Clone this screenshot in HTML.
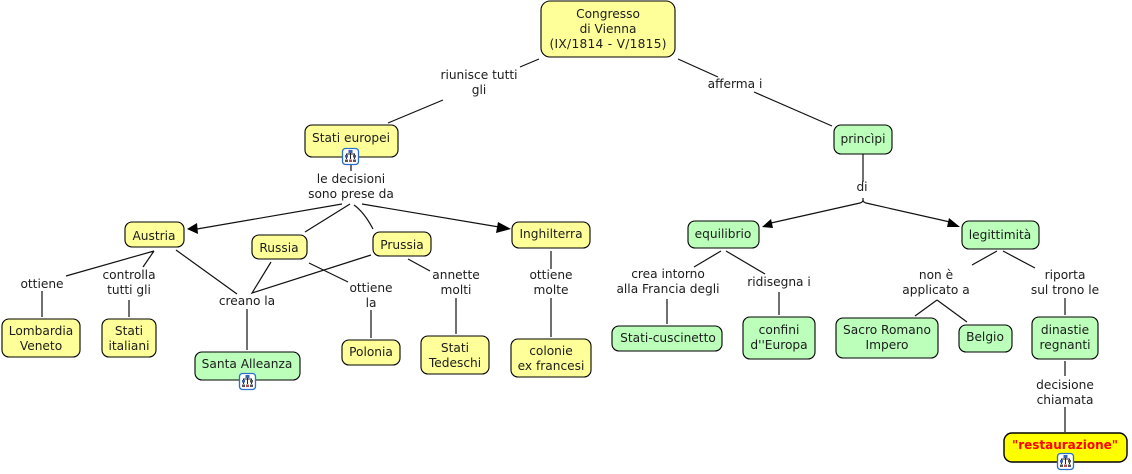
<!DOCTYPE html>
<html><head><meta charset="utf-8"><style>
html,body{margin:0;padding:0;background:#fff;width:1132px;height:474px;overflow:hidden}
svg{display:block}
text{font-family:"DejaVu Sans","Liberation Sans",sans-serif;font-size:12.2px;fill:#1c1c1c;text-anchor:middle}
.l{fill:none;stroke:#111;stroke-width:1.2}
.y{fill:#ffff99;stroke:#000;stroke-width:1.1}
.g{fill:#bbffbb;stroke:#000;stroke-width:1.1}
.a{fill:#000;stroke:none}
.ic{fill:#fff;stroke:#2a6fc9;stroke-width:1.3}
</style></head><body>
<svg width="1132" height="474" viewBox="0 0 1132 474" xmlns="http://www.w3.org/2000/svg">
<defs><g id="ic"><rect class="ic" x="0.5" y="0.5" width="16" height="16" rx="3"/><path d="M8.5 3V6M4.5 8V6H12.5V8M4.5 8V11M8.5 6V11M12.5 8V11" fill="none" stroke="#223" stroke-width="1"/><rect x="6.5" y="2" width="4" height="3" fill="#3a62b0"/><rect x="3" y="7" width="3" height="2.5" fill="#3a62b0"/><rect x="11" y="7" width="3" height="2.5" fill="#555"/><rect x="3" y="11.5" width="3" height="2.5" fill="#555"/><rect x="7" y="11.5" width="3" height="2.5" fill="#a55"/><rect x="11" y="11.5" width="3" height="2.5" fill="#555"/></g></defs>

<!-- connectors -->
<g class="l">
<path d="M539 59L520 67M443 100L388 123"/>
<path d="M678 59L718 77M754 92L832 126"/>
<path d="M351 165V171"/>
<path d="M342 204L197 229M350 204L305 232M354 205Q364 212 373 229M362 204L499 227"/>
<path d="M154 251L66 276M154 251L143 267M42 291V317M129 300V317M176 250L237 294"/>
<path d="M271 262L252 293L371 255M247 309V350"/>
<path d="M309 263L348 282M371 310V338"/>
<path d="M408 259L430 271M456 298V334"/>
<path d="M551 251V269M551 298V337"/>
<path d="M863 154V182M863 198V200Q863 202 860 203L771 223M863 200Q863 202 866 203L950 222"/>
<path d="M721 251L694 267M726 251L765 274M667 299V324M779 292V315"/>
<path d="M997 251L972 265M1003 251L1035 268M937 300L915 316M937 300L967 322"/>
<path d="M1065 298V315M1065 361V376M1065 407V432"/>
</g>

<!-- arrowheads -->
<path class="a" d="M187 229L197 223L198 234Z"/>
<path class="a" d="M511 229L498 222L496 233Z"/>
<path class="a" d="M762 227L771 219L773 228Z"/>
<path class="a" d="M960 227L949 218L947 227Z"/>

<!-- nodes -->
<rect class="y" x="541" y="1" width="134" height="56" rx="9"/>
<rect class="y" x="305" y="125" width="93" height="32" rx="7"/>
<rect class="g" x="834" y="125" width="58" height="29" rx="7"/>
<rect class="y" x="125" y="222" width="59" height="25" rx="7"/>
<rect class="y" x="252" y="235" width="55" height="24" rx="7"/>
<rect class="y" x="373" y="232" width="58" height="24" rx="7"/>
<rect class="y" x="512" y="222" width="78" height="26" rx="7"/>
<rect class="g" x="688" y="221" width="71" height="27" rx="7"/>
<rect class="g" x="962" y="221" width="77" height="28" rx="7"/>
<rect class="y" x="2" y="319" width="78" height="38" rx="7"/>
<rect class="y" x="102" y="319" width="54" height="38" rx="7"/>
<rect class="g" x="195" y="352" width="105" height="28" rx="7"/>
<rect class="y" x="342" y="340" width="58" height="25" rx="7"/>
<rect class="y" x="421" y="336" width="68" height="38" rx="7"/>
<rect class="y" x="511" y="339" width="80" height="38" rx="7"/>
<rect class="g" x="612" y="326" width="110" height="25" rx="7"/>
<rect class="g" x="743" y="317" width="72" height="42" rx="7"/>
<rect class="g" x="836" y="318" width="102" height="40" rx="7"/>
<rect class="g" x="959" y="325" width="53" height="27" rx="7"/>
<rect class="g" x="1032" y="317" width="66" height="42" rx="7"/>
<rect x="1004" y="433" width="123" height="29" rx="8" fill="#ffff00" stroke="#000" stroke-width="1.4"/>

<!-- icons -->
<use href="#ic" x="342" y="148"/>
<use href="#ic" x="239" y="373"/>
<use href="#ic" x="1057" y="453"/>

<!-- node text -->
<text x="608" y="18">Congresso</text>
<text x="608" y="33">di Vienna</text>
<text x="608" y="48" textLength="117" lengthAdjust="spacing">(IX/1814 - V/1815)</text>
<text x="351" y="142">Stati europei</text>
<text x="863" y="143">princìpi</text>
<text x="154" y="240">Austria</text>
<text x="279" y="252">Russia</text>
<text x="402" y="249">Prussia</text>
<text x="551" y="238">Inghilterra</text>
<text x="723" y="238">equilibrio</text>
<text x="1000" y="239">legittimità</text>
<text x="41" y="335">Lombardia</text>
<text x="41" y="350">Veneto</text>
<text x="129" y="335">Stati</text>
<text x="129" y="350">italiani</text>
<text x="247" y="368">Santa Alleanza</text>
<text x="371" y="356">Polonia</text>
<text x="455" y="352">Stati</text>
<text x="455" y="367">Tedeschi</text>
<text x="551" y="355">colonie</text>
<text x="551" y="370">ex francesi</text>
<text x="668" y="342">Stati-cuscinetto</text>
<text x="779" y="334">confini</text>
<text x="779" y="349">d''Europa</text>
<text x="887" y="334">Sacro Romano</text>
<text x="887" y="349">Impero</text>
<text x="985" y="341">Belgio</text>
<text x="1065" y="334">dinastie</text>
<text x="1065" y="349">regnanti</text>
<text x="1065" y="449" style="font-weight:bold;fill:#ff0000;font-size:12px">"restaurazione"</text>

<!-- link text -->
<text x="479" y="79">riunisce tutti</text>
<text x="479" y="94">gli</text>
<text x="735" y="88">afferma i</text>
<text x="351" y="183">le decisioni</text>
<text x="351" y="198">sono prese da</text>
<text x="862" y="191">di</text>
<text x="42" y="288">ottiene</text>
<text x="129" y="279">controlla</text>
<text x="129" y="294">tutti gli</text>
<text x="247" y="305">creano la</text>
<text x="371" y="292">ottiene</text>
<text x="371" y="307">la</text>
<text x="456" y="279">annette</text>
<text x="456" y="294">molti</text>
<text x="551" y="279">ottiene</text>
<text x="551" y="294">molte</text>
<text x="668" y="278">crea intorno</text>
<text x="668" y="293">alla Francia degli</text>
<text x="779" y="286">ridisegna i</text>
<text x="936" y="279">non è</text>
<text x="936" y="294">applicato a</text>
<text x="1065" y="279">riporta</text>
<text x="1065" y="294">sul trono le</text>
<text x="1065" y="389">decisione</text>
<text x="1065" y="404">chiamata</text>
</svg>
</body></html>
